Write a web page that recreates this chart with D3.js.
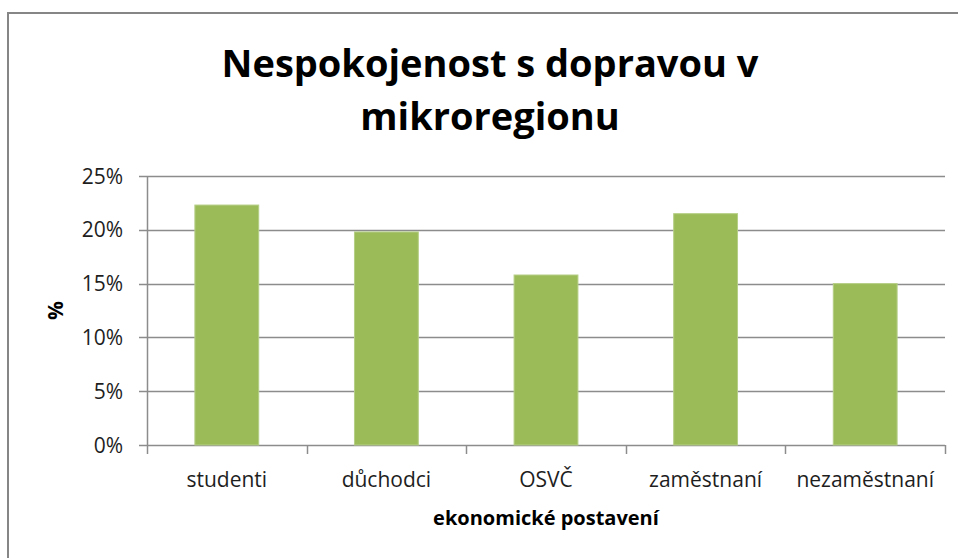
<!DOCTYPE html>
<html>
<head>
<meta charset="utf-8">
<script src="https://cdn.jsdelivr.net/npm/d3@7"></script>
<style>
	body { margin: 0; background: #fff; }
	svg { display: block; }
	.tick-label { font-family: 'Open Sans', sans-serif; fill: #1e1e1e; }
</style>
</head>
<body>
<script>
// data
var categories = ['studenti', 'důchodci', 'OSVČ', 'zaměstnaní', 'nezaměstnaní'];
var values = [22.3, 19.8, 15.8, 21.5, 15.0];
var yTicks = [0, 5, 10, 15, 20, 25];
var titleLines = ['Nespokojenost s dopravou v', 'mikroregionu'];
var xTitle = 'ekonomické postavení';
var yTitle = '%';

var W = 958, H = 558;
var margin = { top: 176, right: 13, bottom: 113, left: 147 };
var width = W - margin.left - margin.right;
var height = H - margin.top - margin.bottom;

var svg = d3.select('body')
	.append('svg')
	.attr('width', W)
	.attr('height', H);

// outer frame
svg.append('rect')
	.attr('x', 8)
	.attr('y', 13)
	.attr('width', 980)
	.attr('height', 580)
	.attr('fill', 'none')
	.attr('stroke', '#868686')
	.attr('stroke-width', 2);

// title
svg.append('text')
	.attr('text-anchor', 'middle')
	.attr('font-family', 'Open Sans, sans-serif')
	.attr('font-weight', 'bold')
	.attr('font-size', 38)
	.attr('fill', '#000')
	.selectAll('tspan')
	.data(titleLines)
	.enter()
	.append('tspan')
	.attr('x', 490)
	.attr('y', function(d, i) { return 77 + i * 53; })
	.text(function(d) { return d; });

var g = svg.append('g')
	.attr('transform', 'translate(' + margin.left + ',' + margin.top + ')');

var x = d3.scaleBand()
	.domain(categories)
	.range([0, width])
	.paddingInner(0.6)
	.paddingOuter(0.3);

var y = d3.scaleLinear()
	.domain([0, 25])
	.range([height, 0]);

// gridlines
g.append('g')
	.selectAll('line')
	.data(yTicks)
	.enter()
	.append('line')
	.attr('x1', -8)
	.attr('x2', width)
	.attr('y1', function(d) { return Math.round(y(d)) + 0.5; })
	.attr('y2', function(d) { return Math.round(y(d)) + 0.5; })
	.attr('stroke', '#8c8c8c')
	.attr('stroke-width', 1.5);

// y axis line
g.append('line')
	.attr('x1', 0.5)
	.attr('x2', 0.5)
	.attr('y1', 0)
	.attr('y2', height)
	.attr('stroke', '#8c8c8c')
	.attr('stroke-width', 1.5);

// y tick labels
g.append('g')
	.selectAll('text')
	.data(yTicks)
	.enter()
	.append('text')
	.attr('class', 'tick-label')
	.attr('x', -24)
	.attr('y', function(d) { return y(d); })
	.attr('dy', '0.36em')
	.attr('text-anchor', 'end')
	.attr('font-size', 21)
	.text(function(d) { return d + '%'; });

// bars
g.append('g')
	.selectAll('rect')
	.data(values)
	.enter()
	.append('rect')
	.attr('x', function(d, i) { return x(categories[i]); })
	.attr('y', function(d) { return y(d); })
	.attr('width', x.bandwidth())
	.attr('height', function(d) { return height - y(d); })
	.attr('fill', '#9bbb59')
	.attr('stroke', '#b5cf86')
	.attr('stroke-width', 1);

// x category boundary ticks
var bounds = d3.range(categories.length + 1).map(function(i) { return i * x.step(); });
g.append('g')
	.selectAll('line')
	.data(bounds)
	.enter()
	.append('line')
	.attr('x1', function(d) { return Math.round(d) + 0.5; })
	.attr('x2', function(d) { return Math.round(d) + 0.5; })
	.attr('y1', height)
	.attr('y2', height + 9)
	.attr('stroke', '#8c8c8c')
	.attr('stroke-width', 1.5);

// x tick labels
g.append('g')
	.selectAll('text')
	.data(categories)
	.enter()
	.append('text')
	.attr('class', 'tick-label')
	.attr('x', function(d) { return x(d) + x.bandwidth() / 2; })
	.attr('y', height + 42)
	.attr('text-anchor', 'middle')
	.attr('font-size', 21)
	.text(function(d) { return d; });

// axis titles
g.append('text')
	.attr('x', width / 2)
	.attr('y', height + 80)
	.attr('text-anchor', 'middle')
	.attr('font-family', 'Open Sans, sans-serif')
	.attr('font-weight', 'bold')
	.attr('font-size', 20)
	.attr('fill', '#000')
	.text(xTitle);

g.append('text')
	.attr('transform', 'translate(-84,' + (height / 2) + ') rotate(-90)')
	.attr('text-anchor', 'middle')
	.attr('font-family', 'Open Sans, sans-serif')
	.attr('font-weight', 'bold')
	.attr('font-size', 21)
	.attr('fill', '#000')
	.text(yTitle);
</script>
</body>
</html>
